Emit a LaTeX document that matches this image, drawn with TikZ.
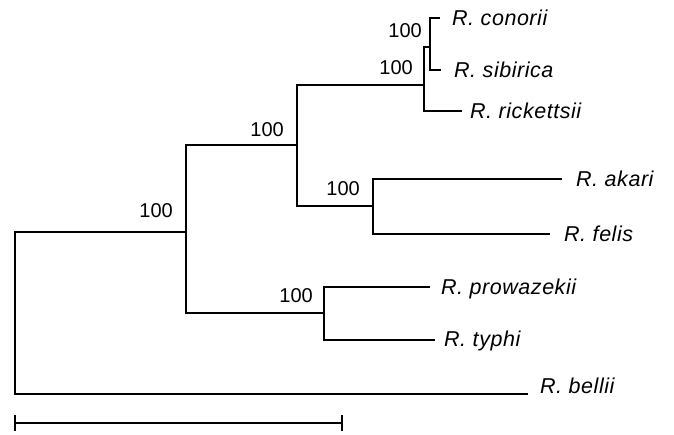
\documentclass[tikz,border=0pt]{standalone}
\usepackage{fontspec}
\setmainfont{Liberation Sans}
\newfontfamily\taxfont[LetterSpace=2.5]{Liberation Sans}
\begin{document}
\begin{tikzpicture}[x=1pt,y=-1pt,
  branch/.style={line width=2.6pt,line join=miter},
  taxon/.style={anchor=base west,inner sep=0pt,font=\taxfont\fontsize{21.5}{24}\selectfont\itshape},
  boot/.style={anchor=base east,inner sep=0pt,font=\fontsize{20}{22}\selectfont}]
\useasboundingbox (0,0) rectangle (674,435);
% internal nodes
\coordinate (root) at (15,313);
\coordinate (A) at (186,232);
\coordinate (B) at (297,145);
\coordinate (C) at (373,206);
\coordinate (D) at (424,85);
\coordinate (E) at (430,47);
\coordinate (F) at (324,313);
% leaf tips
\coordinate (conorii) at (440,18);
\coordinate (sibirica) at (441,70);
\coordinate (rickettsii) at (462,111);
\coordinate (akari) at (562,179);
\coordinate (felis) at (550,234);
\coordinate (prowazekii) at (430,287);
\coordinate (typhi) at (435,340);
\coordinate (bellii) at (528,394);
% branches
\draw[branch] (A) -| (root) |- (bellii);
\draw[branch] (B) -| (A) |- (F);
\draw[branch] (D) -| (B) |- (C);
\draw[branch] (E) -| (D) |- (rickettsii);
\draw[branch] (conorii) -| (E) |- (sibirica);
\draw[branch] (akari) -| (C) |- (felis);
\draw[branch] (prowazekii) -| (F) |- (typhi);
% taxon labels
\node[taxon] (Lconorii) at ([xshift=12pt,yshift=-7.5pt]conorii) {R. conorii};
\node[taxon] (Lsibirica) at ([xshift=13pt,yshift=-7.5pt]sibirica) {R. sibirica};
\node[taxon] (Lrickettsii) at ([xshift=8pt,yshift=-7.5pt]rickettsii) {R. rickettsii};
\node[taxon] (Lakari) at ([xshift=14pt,yshift=-7.5pt]akari) {R. akari};
\node[taxon] (Lfelis) at ([xshift=14pt,yshift=-7.5pt]felis) {R. felis};
\node[taxon] (Lprowazekii) at ([xshift=11pt,yshift=-7.5pt]prowazekii) {R. prowazekii};
\node[taxon] (Ltyphi) at ([xshift=9pt,yshift=-6pt]typhi) {R. typhi};
\node[taxon] (Lbellii) at ([xshift=12pt,yshift=1pt]bellii) {R. bellii};
% bootstrap values
\node[boot] (bA) at ([xshift=-13pt,yshift=14pt]A) {100};
\node[boot] (bB) at ([xshift=-13pt,yshift=8pt]B) {100};
\node[boot] (bC) at ([xshift=-13pt,yshift=10pt]C) {100};
\node[boot] (bD) at ([xshift=-11pt,yshift=10pt]D) {100};
\node[boot] (bE) at ([xshift=-8pt,yshift=9pt]E) {100};
\node[boot] (bF) at ([xshift=-11pt,yshift=10pt]F) {100};
% scale bar
\coordinate (s1) at (15,423);
\coordinate (s2) at (342,423);
\draw[branch] (s1) -- (s2);
\draw[branch] ([yshift=-8pt]s1) -- ([yshift=8pt]s1);
\draw[branch] ([yshift=-8pt]s2) -- ([yshift=8pt]s2);
\end{tikzpicture}
\end{document}
